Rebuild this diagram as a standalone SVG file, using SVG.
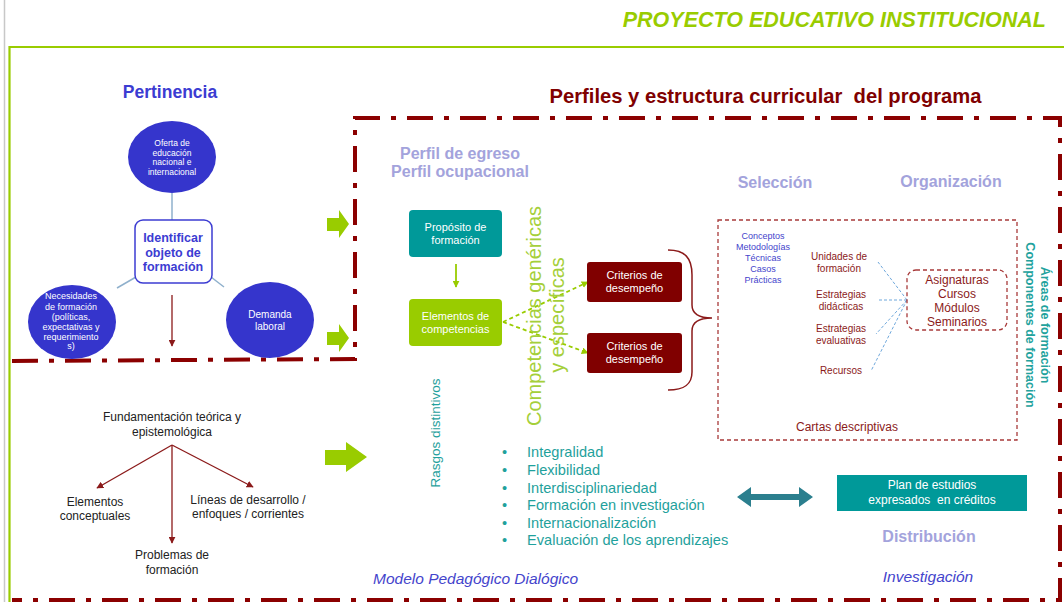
<svg xmlns="http://www.w3.org/2000/svg" width="1064" height="602" viewBox="0 0 1064 602">
<defs>
<style>
text{font-family:"Liberation Sans",Arial,sans-serif}
.blueT{fill:#3c3cd2;font-weight:bold}
.lav{fill:#a3a3dc;font-weight:bold;font-size:16px}
.wh{fill:#ffffff}
.dr{fill:#8b1a1a}
.teal{fill:#1fa19c}
.circ{fill:#3535cc}
.frame{fill:none;stroke:#8b0000;stroke-width:4;stroke-dasharray:26 11 5 11}
.dash{fill:none;stroke:#a83a3a;stroke-width:1.3;stroke-dasharray:4 3}
.bl{stroke:#6fa8dc;stroke-width:1;stroke-dasharray:3 2;fill:none}
.rl{stroke:#8b1a1a;stroke-width:1.3;fill:none}
.ga{fill:#99cc00}
</style>
<marker id="ahr" viewBox="0 0 10 10" refX="9" refY="5" markerWidth="7" markerHeight="7" orient="auto" markerUnits="userSpaceOnUse"><path d="M0,0 L10,5 L0,10 z" fill="#8b1a1a"/></marker>
<marker id="ahg" viewBox="0 0 10 10" refX="9" refY="5" markerWidth="7" markerHeight="7" orient="auto" markerUnits="userSpaceOnUse"><path d="M0,0 L10,5 L0,10 z" fill="#99cc00"/></marker>
</defs>
<rect width="1064" height="602" fill="#ffffff"/>
<line x1="4.5" y1="0" x2="4.5" y2="602" stroke="#c8c8c8" stroke-width="1.5"/>
<path d="M9.5,602 L9.5,47 L1064,47" fill="none" stroke="#99cc00" stroke-width="2.2"/>
<text x="1046" y="27" text-anchor="end" font-size="21.5" font-weight="bold" font-style="italic" fill="#99cc00">PROYECTO EDUCATIVO INSTITUCIONAL</text>

<g id="frames">
<path class="frame" d="M12,361 L355,359 L355,118 L1060,118 L1060,600 L12,600"/>
</g>

<g id="titles">
<text x="170" y="98" text-anchor="middle" font-size="17.5" class="blueT">Pertinencia</text>
<text x="765.5" y="103" text-anchor="middle" font-size="20.2" font-weight="bold" fill="#800000" xml:space="preserve">Perfiles y estructura curricular  del programa</text>
<text x="460" y="159" text-anchor="middle" class="lav">Perfil de egreso</text>
<text x="460" y="177" text-anchor="middle" class="lav">Perfil ocupacional</text>
<text x="775" y="188" text-anchor="middle" class="lav">Selección</text>
<text x="951" y="187" text-anchor="middle" class="lav">Organización</text>
<text x="929" y="542" text-anchor="middle" class="lav">Distribución</text>
<text x="373" y="584" font-size="15.5" font-style="italic" fill="#4444cc">Modelo Pedagógico Dialógico</text>
<text x="928" y="582" text-anchor="middle" font-size="15.5" font-style="italic" fill="#4444cc">Investigación</text>
</g>

<g id="connectors">
<line x1="172" y1="193" x2="172" y2="220" stroke="#8fb0cc" stroke-width="1.5"/>
<line x1="136" y1="277" x2="117" y2="288" stroke="#8fb0cc" stroke-width="1.5"/>
<line x1="211" y1="277" x2="224" y2="287" stroke="#8fb0cc" stroke-width="1.5"/>
<line x1="172" y1="295" x2="172" y2="346" class="rl" stroke-width="1.8" marker-end="url(#ahr)"/>
<line x1="172" y1="445" x2="97" y2="488" class="rl" marker-end="url(#ahr)"/>
<line x1="172" y1="445" x2="172" y2="543" class="rl" marker-end="url(#ahr)"/>
<line x1="172" y1="445" x2="253" y2="487" class="rl" marker-end="url(#ahr)"/>
<line x1="456" y1="264" x2="456" y2="287" stroke="#99cc00" stroke-width="1.8" marker-end="url(#ahg)"/>
<line x1="503" y1="322" x2="588" y2="282" stroke="#99cc00" stroke-width="1.8" stroke-dasharray="4 3" marker-end="url(#ahg)"/>
<line x1="503" y1="322" x2="588" y2="353" stroke="#99cc00" stroke-width="1.8" stroke-dasharray="4 3" marker-end="url(#ahg)"/>
<path d="M668,250 C685,250 692,258 692,275 L692,305 C692,314 700,318 712,318 C700,318 692,322 692,331 L692,372 C692,384 685,390 668,390" fill="none" stroke="#8b1a1a" stroke-width="1.5"/>
<line x1="907" y1="300" x2="878" y2="262" class="bl"/>
<line x1="907" y1="300" x2="877" y2="300" class="bl"/>
<line x1="907" y1="300" x2="876" y2="334" class="bl"/>
<line x1="907" y1="300" x2="871" y2="371" class="bl"/>
<polygon class="ga" points="327,218 339,218 339,210 349,224 339,238 339,231 327,231"/>
<polygon class="ga" points="327,332 339,332 339,324 349,338 339,352 339,345 327,345"/>
<polygon class="ga" points="325,450 346,450 346,442 367,457 346,472 346,465 325,465"/>
<polygon fill="#2b7f8e" points="737,497 751,487 751,494 799,494 799,487 813,497 799,507 799,500 751,500 751,507"/>
</g>

<g id="n-oferta">
<ellipse class="circ" cx="172" cy="157" rx="44" ry="36"/>
<text x="172" y="146" text-anchor="middle" font-size="8.5" class="wh">Oferta de</text>
<text x="172" y="155.5" text-anchor="middle" font-size="8.5" class="wh">educación</text>
<text x="172" y="165" text-anchor="middle" font-size="8.5" class="wh">nacional e</text>
<text x="172" y="174.5" text-anchor="middle" font-size="8.5" class="wh">internacional</text>
</g>
<g id="n-identificar">
<rect x="135" y="220" width="77" height="63" rx="8" fill="#ffffff" stroke="#3c3cd2" stroke-width="1.5"/>
<text x="173" y="242" text-anchor="middle" font-size="12.5" class="blueT">Identificar</text>
<text x="173" y="256.5" text-anchor="middle" font-size="12.5" class="blueT">objeto de</text>
<text x="173" y="271" text-anchor="middle" font-size="12.5" class="blueT">formación</text>
</g>
<g id="n-necesidades">
<ellipse class="circ" cx="72" cy="322" rx="44" ry="37"/>
<text x="71" y="299" text-anchor="middle" font-size="9" class="wh">Necesidades</text>
<text x="71" y="309.5" text-anchor="middle" font-size="9" class="wh">de formación</text>
<text x="71" y="320" text-anchor="middle" font-size="9" class="wh">(políticas,</text>
<text x="71" y="330" text-anchor="middle" font-size="9" class="wh">expectativas y</text>
<text x="71" y="339.5" text-anchor="middle" font-size="9" class="wh">requerimiento</text>
<text x="71" y="349" text-anchor="middle" font-size="9" class="wh">s)</text>
</g>
<g id="n-demanda">
<ellipse class="circ" cx="270" cy="320" rx="44" ry="38"/>
<text x="270" y="318" text-anchor="middle" font-size="10" class="wh">Demanda</text>
<text x="270" y="329.5" text-anchor="middle" font-size="10" class="wh">laboral</text>
</g>

<g id="n-fundamentacion">
<text x="172" y="421" text-anchor="middle" font-size="12" fill="#222">Fundamentación teórica y</text>
<text x="172" y="436" text-anchor="middle" font-size="12" fill="#222">epistemológica</text>
</g>
<g id="n-elementos-conc">
<text x="95" y="506" text-anchor="middle" font-size="12" fill="#222">Elementos</text>
<text x="95" y="520" text-anchor="middle" font-size="12" fill="#222">conceptuales</text>
</g>
<g id="n-lineas">
<text x="248" y="504" text-anchor="middle" font-size="12" fill="#222">Líneas de desarrollo /</text>
<text x="248" y="518" text-anchor="middle" font-size="12" fill="#222">enfoques / corrientes</text>
</g>
<g id="n-problemas">
<text x="172" y="559" text-anchor="middle" font-size="12" fill="#222">Problemas de</text>
<text x="172" y="574" text-anchor="middle" font-size="12" fill="#222">formación</text>
</g>

<g id="n-proposito">
<rect x="409" y="210" width="93" height="47" rx="4" fill="#009999"/>
<text x="455.5" y="231" text-anchor="middle" font-size="11" class="wh">Propósito de</text>
<text x="455.5" y="244" text-anchor="middle" font-size="11" class="wh">formación</text>
</g>
<g id="n-elementos-comp">
<rect x="409" y="299" width="93" height="47" rx="4" fill="#99cc00"/>
<text x="455.5" y="320" text-anchor="middle" font-size="11" class="wh">Elementos de</text>
<text x="455.5" y="333" text-anchor="middle" font-size="11" class="wh">competencias</text>
</g>
<g id="n-competencias">
<text transform="translate(541,316) rotate(-90)" text-anchor="middle" font-size="20" fill="#a5cf3a">Competencias genéricas</text>
<text transform="translate(564,315) rotate(-90)" text-anchor="middle" font-size="20" fill="#a5cf3a">y específicas</text>
</g>
<g id="n-criterios1">
<rect x="587" y="262" width="95" height="40" rx="3" fill="#800000"/>
<text x="634.5" y="279" text-anchor="middle" font-size="11" class="wh">Criterios de</text>
<text x="634.5" y="292" text-anchor="middle" font-size="11" class="wh">desempeño</text>
</g>
<g id="n-criterios2">
<rect x="587" y="333" width="95" height="40" rx="3" fill="#800000"/>
<text x="634.5" y="350" text-anchor="middle" font-size="11" class="wh">Criterios de</text>
<text x="634.5" y="363" text-anchor="middle" font-size="11" class="wh">desempeño</text>
</g>
<g id="n-rasgos">
<text transform="translate(440,433) rotate(-90)" text-anchor="middle" font-size="13.5" fill="#1fa19c">Rasgos distintivos</text>
</g>
<g id="n-lista">
<g font-size="14.6" class="teal">
<text x="502" y="457">•</text><text x="527" y="457">Integralidad</text>
<text x="502" y="475">•</text><text x="527" y="475">Flexibilidad</text>
<text x="502" y="493">•</text><text x="527" y="493">Interdisciplinariedad</text>
<text x="502" y="510">•</text><text x="527" y="510">Formación en investigación</text>
<text x="502" y="528">•</text><text x="527" y="528">Internacionalización</text>
<text x="502" y="545">•</text><text x="527" y="545">Evaluación de los aprendizajes</text>
</g>
</g>

<g id="n-cartas">
<rect class="dash" x="718" y="220" width="299" height="220"/>
<g font-size="9" fill="#4444cc" text-anchor="middle">
<text x="763" y="239">Conceptos</text>
<text x="763" y="250">Metodologías</text>
<text x="763" y="261">Técnicas</text>
<text x="763" y="272">Casos</text>
<text x="763" y="283">Prácticas</text>
</g>
<g font-size="10" class="dr" text-anchor="middle">
<text x="839" y="259.5">Unidades de</text>
<text x="839" y="271.5">formación</text>
<text x="841" y="297.5">Estrategias</text>
<text x="841" y="309.5">didácticas</text>
<text x="841" y="331.5">Estrategias</text>
<text x="841" y="343.5">evaluativas</text>
<text x="841" y="373.5">Recursos</text>
</g>
<text x="847" y="431" text-anchor="middle" font-size="12" class="dr">Cartas descriptivas</text>
</g>
<g id="n-asignaturas">
<rect class="dash" x="907" y="270" width="100" height="60" rx="9"/>
<g font-size="12" class="dr" text-anchor="middle">
<text x="957" y="284">Asignaturas</text>
<text x="957" y="298">Cursos</text>
<text x="957" y="312">Módulos</text>
<text x="957" y="326">Seminarios</text>
</g>
</g>
<g id="n-areas">
<text transform="translate(1041,325) rotate(90)" text-anchor="middle" font-size="12.5" font-weight="bold" fill="#22a29d">Áreas de formación</text>
<text transform="translate(1026,325) rotate(90)" text-anchor="middle" font-size="12.5" font-weight="bold" fill="#22a29d">Componentes de formación</text>
</g>
<g id="n-plan">
<rect x="837" y="475" width="190" height="36" fill="#009999"/>
<text x="932" y="489" text-anchor="middle" font-size="12" class="wh">Plan de estudios</text>
<text x="932" y="504" text-anchor="middle" font-size="12" class="wh" xml:space="preserve">expresados  en créditos</text>
</g>
</svg>
